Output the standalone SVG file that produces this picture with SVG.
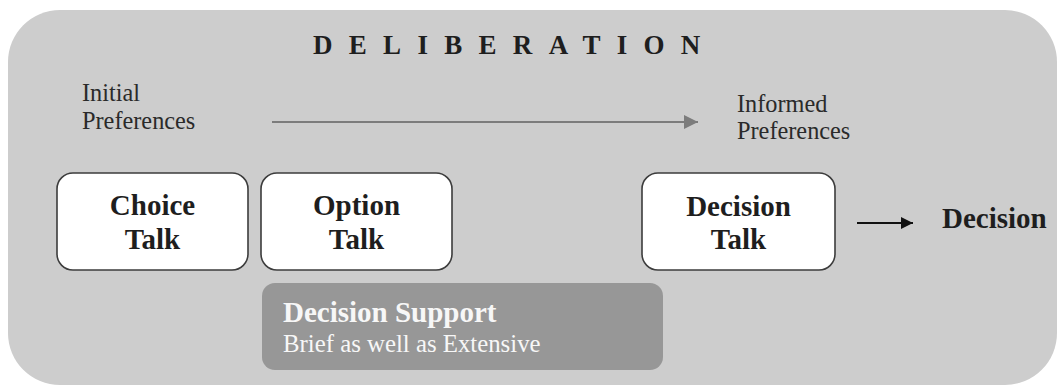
<svg xmlns="http://www.w3.org/2000/svg" width="1064" height="390" viewBox="0 0 1064 390">
  <style>
    .panel { fill: #cdcdcd; }
    .talk { fill: #ffffff; stroke: #3c3c3c; stroke-width: 1.6; }
    .support { fill: #979797; }
    .bold { font-family: "Liberation Serif", "Times New Roman", serif; font-weight: bold; font-size: 29px; fill: #1e1e1e; }
    .plain { font-family: "Liberation Serif", "Times New Roman", serif; font-size: 24.3px; fill: #2a2a2a; }
    .title { font-family: "Liberation Serif", "Times New Roman", serif; font-weight: bold; font-size: 27px; fill: #1e1e1e; letter-spacing: 16.3px; }
    .white { fill: #f7f7f7; }
    .sub { font-size: 24.8px; }
  </style>
  <defs>
    <marker id="head-gray" viewBox="0 0 10 10" refX="10" refY="5" markerWidth="15" markerHeight="14" markerUnits="userSpaceOnUse" orient="auto">
      <path d="M0,0 L10,5 L0,10 z" fill="#7c7c7c"/>
    </marker>
    <marker id="head-black" viewBox="0 0 10 10" refX="10" refY="5" markerWidth="15" markerHeight="12" markerUnits="userSpaceOnUse" orient="auto">
      <path d="M0,0 L10,5 L0,10 z" fill="#111111"/>
    </marker>
  </defs>

  <rect width="1064" height="390" fill="#ffffff"/>

  <!-- deliberation panel -->
  <g id="deliberation">
    <rect class="panel" x="8" y="10" width="1049" height="375" rx="52" ry="52"/>
    <text class="title" x="313" y="54">DELIBERATION</text>
    <text class="plain" x="82" y="101">Initial</text>
    <text class="plain" x="82" y="129">Preferences</text>
    <text class="plain" x="737" y="112">Informed</text>
    <text class="plain" x="737" y="139">Preferences</text>
  </g>

  <!-- connectors -->
  <g id="connectors">
    <line x1="272" y1="122" x2="698" y2="122" stroke="#7c7c7c" stroke-width="2" marker-end="url(#head-gray)"/>
    <line x1="857" y1="223" x2="913" y2="223" stroke="#111111" stroke-width="2" marker-end="url(#head-black)"/>
  </g>

  <g id="choice-talk">
    <rect class="talk" x="57" y="173" width="191" height="97" rx="16" ry="16"/>
    <text class="bold" x="152.5" y="215" text-anchor="middle">Choice</text>
    <text class="bold" x="152.5" y="249" text-anchor="middle">Talk</text>
  </g>

  <g id="option-talk">
    <rect class="talk" x="261" y="173" width="191" height="97" rx="16" ry="16"/>
    <text class="bold" x="356.5" y="215" text-anchor="middle">Option</text>
    <text class="bold" x="356.5" y="249" text-anchor="middle">Talk</text>
  </g>

  <g id="decision-talk">
    <rect class="talk" x="642" y="173" width="193" height="97" rx="16" ry="16"/>
    <text class="bold" x="738.5" y="216" text-anchor="middle">Decision</text>
    <text class="bold" x="738.5" y="249" text-anchor="middle">Talk</text>
  </g>

  <g id="decision">
    <text class="bold" x="942" y="228">Decision</text>
  </g>

  <g id="decision-support">
    <rect class="support" x="262" y="283" width="401" height="87" rx="13" ry="13"/>
    <text class="bold white" x="283" y="322">Decision Support</text>
    <text class="plain white sub" x="283" y="352">Brief as well as Extensive</text>
  </g>
</svg>
